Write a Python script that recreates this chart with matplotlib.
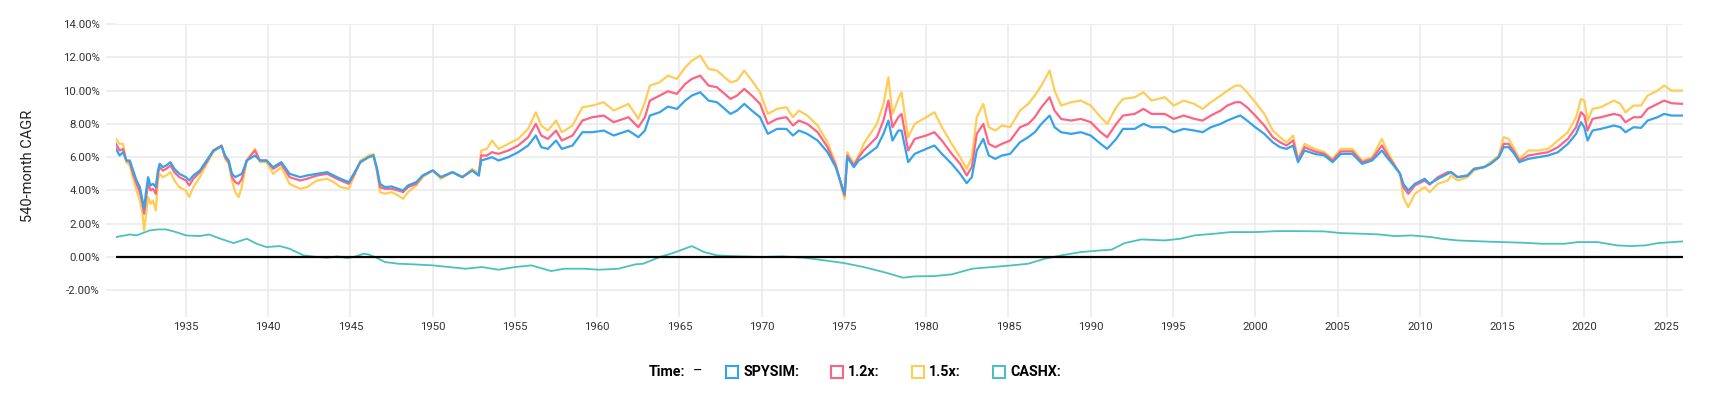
import numpy as np
import matplotlib
matplotlib.use('Agg')
import matplotlib.pyplot as plt
from matplotlib.patches import Rectangle

plt.rcParams['font.family'] = ['Roboto', 'DejaVu Sans']

# ---- data ----
years = [1930.75, 1930.97, 1931.18, 1931.38, 1931.59, 1931.79, 1932.0, 1932.2, 1932.36, 1932.46,
         1932.56, 1932.7, 1932.85, 1933.0, 1933.17, 1933.3, 1933.4, 1933.6, 1933.8, 1934.06,
         1934.3, 1934.6, 1935.0, 1935.2, 1935.45, 1935.85, 1936.26, 1936.67, 1937.17, 1937.38,
         1937.6, 1937.8, 1938.0, 1938.2, 1938.4, 1938.7, 1939.2, 1939.5, 1939.9, 1940.3,
         1940.8, 1941.3, 1941.95, 1942.36, 1942.97, 1943.58, 1943.98, 1944.4, 1944.9, 1945.2,
         1945.6, 1946.1, 1946.4, 1946.6, 1946.8, 1947.1, 1947.5, 1947.9, 1948.2, 1948.5,
         1949.0, 1949.4, 1950.0, 1950.5, 1951.2, 1951.8, 1952.4, 1952.8, 1952.95, 1953.3,
         1953.6, 1954.0, 1954.6, 1955.2, 1955.8, 1956.27, 1956.6, 1957.0, 1957.5, 1957.85,
         1958.5, 1959.1, 1959.7, 1960.4, 1961.0, 1961.9, 1962.5, 1962.9, 1963.2, 1963.8,
         1964.3, 1964.84, 1965.35, 1965.75, 1966.26, 1966.77, 1967.28, 1968.1, 1968.5, 1968.94,
         1969.4, 1969.9, 1970.37, 1970.93, 1971.5, 1971.9, 1972.26, 1972.77, 1973.4, 1974.0,
         1974.5, 1974.9, 1975.04, 1975.2, 1975.6, 1975.9, 1976.2, 1976.6, 1977.0, 1977.4,
         1977.7, 1977.95, 1978.3, 1978.5, 1978.9, 1979.3, 1980.0, 1980.5, 1980.95, 1981.55,
         1982.06, 1982.46, 1982.77, 1983.07, 1983.47, 1983.8, 1984.2, 1984.6, 1985.1, 1985.7,
         1986.2, 1986.6, 1987.0, 1987.5, 1987.8, 1988.2, 1988.8, 1989.4, 1990.0, 1990.6,
         1991.0, 1991.55, 1991.96, 1992.67, 1993.2, 1993.7, 1994.5, 1995.04, 1995.65, 1996.3,
         1996.8, 1997.3, 1997.9, 1998.3, 1998.8, 1999.1, 1999.5, 2000.0, 2000.55, 2001.06,
         2001.5, 2001.9, 2002.3, 2002.6, 2003.0, 2003.6, 2004.2, 2004.7, 2005.2, 2005.9,
         2006.5, 2007.1, 2007.7, 2008.0, 2008.5, 2008.8, 2009.0, 2009.3, 2009.7, 2010.3,
         2010.6, 2011.1, 2011.7, 2011.9, 2012.3, 2012.9, 2013.3, 2013.9, 2014.3, 2014.8,
         2015.1, 2015.4, 2015.75, 2016.05, 2016.6, 2017.2, 2017.8, 2018.4, 2019.0, 2019.5,
         2019.8, 2020.0, 2020.2, 2020.5, 2021.0, 2021.8, 2022.2, 2022.5, 2023.0, 2023.45,
         2023.85, 2024.45, 2024.85, 2025.3, 2026.0]

spysim = [6.5, 6.1, 6.3, 5.8, 5.8, 5.2, 4.6, 4.2, 3.4, 2.9,
          3.8, 4.8, 4.3, 4.4, 4.2, 5.2, 5.6, 5.4, 5.5, 5.7,
          5.3, 5.0, 4.8, 4.6, 4.9, 5.2, 5.8, 6.4, 6.65, 6.1,
          5.8, 5.0, 4.8, 4.9, 5.0, 5.8, 6.1, 5.8, 5.8, 5.4,
          5.7, 5.0, 4.8, 4.9, 5.0, 5.1, 4.9, 4.7, 4.5, 5.0,
          5.7, 6.0, 6.1, 5.4, 4.4, 4.2, 4.24, 4.1, 4.0, 4.3,
          4.5, 4.9, 5.2, 4.8, 5.1, 4.8, 5.2, 4.9, 5.8, 5.9,
          6.0, 5.8, 6.0, 6.3, 6.7, 7.3, 6.6, 6.5, 7.0, 6.5,
          6.7, 7.5, 7.5, 7.6, 7.3, 7.6, 7.2, 7.6, 8.5, 8.7,
          9.04, 8.9, 9.4, 9.7, 9.9, 9.4, 9.3, 8.6, 8.8, 9.2,
          8.8, 8.4, 7.4, 7.7, 7.7, 7.3, 7.6, 7.4, 7.0, 6.3,
          5.4, 4.2, 3.8, 6.0, 5.4, 5.8, 6.0, 6.3, 6.6, 7.4,
          8.2, 7.0, 7.6, 7.6, 5.7, 6.2, 6.5, 6.7, 6.2, 5.6,
          5.0, 4.44, 4.8, 6.4, 7.1, 6.1, 5.9, 6.1, 6.2, 6.9,
          7.2, 7.5, 8.0, 8.5, 7.8, 7.5, 7.4, 7.5, 7.3, 6.8,
          6.5, 7.1, 7.7, 7.7, 8.0, 7.8, 7.8, 7.5, 7.7, 7.6,
          7.5, 7.8, 8.0, 8.2, 8.4, 8.5, 8.2, 7.8, 7.4, 6.9,
          6.6, 6.5, 6.7, 5.7, 6.4, 6.2, 6.1, 5.7, 6.2, 6.2,
          5.6, 5.8, 6.4, 6.0, 5.4, 5.0, 4.4, 4.0, 4.4, 4.7,
          4.4, 4.7, 5.0, 5.1, 4.8, 4.9, 5.3, 5.4, 5.6, 6.0,
          6.6, 6.6, 6.2, 5.7, 5.9, 6.0, 6.1, 6.3, 6.8, 7.4,
          8.1, 7.8, 7.0, 7.6, 7.7, 7.9, 7.8, 7.5, 7.8, 7.76,
          8.2, 8.4, 8.6, 8.5, 8.5]

lev12 = [6.8, 6.4, 6.5, 5.8, 5.7, 5.0, 4.4, 3.9, 3.2, 2.6,
         3.4, 4.4, 4.0, 4.1, 3.8, 5.0, 5.4, 5.2, 5.3, 5.5,
         5.1, 4.8, 4.6, 4.3, 4.7, 5.1, 5.7, 6.4, 6.7, 6.0,
         5.7, 4.8, 4.5, 4.4, 4.7, 5.8, 6.4, 5.8, 5.8, 5.3,
         5.6, 4.8, 4.6, 4.7, 4.9, 5.0, 4.8, 4.6, 4.4, 4.9,
         5.7, 6.0, 6.1, 5.3, 4.2, 4.1, 4.1, 4.0, 3.9, 4.2,
         4.4, 4.9, 5.2, 4.8, 5.1, 4.8, 5.2, 4.9, 6.1, 6.1,
         6.3, 6.2, 6.4, 6.7, 7.2, 8.0, 7.3, 7.1, 7.6, 7.0,
         7.3, 8.2, 8.4, 8.5, 8.1, 8.4, 7.8, 8.4, 9.4, 9.7,
         9.96, 9.8, 10.4, 10.7, 10.9, 10.3, 10.2, 9.5, 9.7, 10.1,
         9.7, 9.2, 8.0, 8.3, 8.4, 7.9, 8.2, 8.0, 7.5, 6.6,
         5.5, 4.1, 3.7, 6.1, 5.5, 6.0, 6.4, 6.8, 7.2, 8.2,
         9.4, 7.8, 8.4, 8.6, 6.4, 7.1, 7.3, 7.5, 7.0, 6.2,
         5.6, 4.9, 5.4, 7.4, 8.0, 6.8, 6.6, 6.8, 7.0, 7.8,
         8.0, 8.4, 9.0, 9.6, 8.8, 8.3, 8.2, 8.3, 8.1, 7.5,
         7.2, 8.0, 8.5, 8.6, 8.9, 8.6, 8.6, 8.3, 8.5, 8.3,
         8.2, 8.5, 8.8, 9.1, 9.3, 9.3, 9.0, 8.5, 7.9, 7.2,
         6.9, 6.7, 7.0, 5.8, 6.6, 6.35, 6.2, 5.8, 6.35, 6.35,
         5.7, 5.9, 6.7, 6.2, 5.45, 5.0, 4.2, 3.8, 4.3, 4.6,
         4.35, 4.8, 5.1, 5.1, 4.8, 4.9, 5.3, 5.4, 5.6, 6.0,
         6.8, 6.8, 6.3, 5.8, 6.1, 6.2, 6.3, 6.6, 7.1, 7.8,
         8.7, 8.5, 7.6, 8.3, 8.4, 8.6, 8.5, 8.1, 8.4, 8.4,
         8.9, 9.2, 9.4, 9.24, 9.2]

lev15 = [7.1, 6.8, 6.8, 5.7, 5.5, 4.7, 4.0, 3.4, 2.6, 1.6,
         2.4, 3.6, 3.2, 3.4, 2.8, 4.6, 5.0, 4.8, 4.9, 5.1,
         4.6, 4.2, 4.0, 3.6, 4.2, 4.8, 5.6, 6.3, 6.7, 5.9,
         5.6, 4.6, 3.9, 3.6, 4.2, 5.8, 6.5, 5.7, 5.7, 5.0,
         5.4, 4.4, 4.1, 4.2, 4.6, 4.7, 4.5, 4.2, 4.1, 4.8,
         5.8, 6.1, 6.2, 5.2, 3.9, 3.8, 3.9, 3.7, 3.5, 3.9,
         4.3, 4.8, 5.2, 4.7, 5.1, 4.8, 5.3, 5.0, 6.4, 6.5,
         7.0, 6.5, 6.8, 7.1, 7.7, 8.7, 7.9, 7.6, 8.2, 7.5,
         7.9, 9.0, 9.1, 9.3, 8.8, 9.2, 8.3, 9.3, 10.3, 10.5,
         10.9, 10.7, 11.4, 11.8, 12.1, 11.3, 11.2, 10.5, 10.6, 11.2,
         10.6, 9.9, 8.6, 8.9, 9.0, 8.4, 8.8, 8.5, 7.9, 6.9,
         5.6, 4.0, 3.5, 6.3, 5.6, 6.1, 6.8, 7.4, 8.0, 9.2,
         10.8, 8.6, 9.5, 9.9, 7.2, 8.0, 8.4, 8.7, 7.8, 6.8,
         6.0, 5.3, 6.0, 8.4, 9.2, 7.8, 7.6, 7.9, 7.8, 8.8,
         9.2, 9.7, 10.3, 11.2, 10.0, 9.1, 9.3, 9.4, 9.1, 8.4,
         8.0, 9.0, 9.5, 9.6, 9.9, 9.4, 9.6, 9.1, 9.4, 9.2,
         8.9, 9.3, 9.7, 10.0, 10.3, 10.3, 9.9, 9.3, 8.6, 7.6,
         7.2, 6.9, 7.3, 5.9, 6.8, 6.5, 6.3, 5.9, 6.5, 6.5,
         5.8, 6.0, 7.1, 6.4, 5.5, 5.0, 3.6, 3.0, 3.8, 4.2,
         3.9, 4.4, 4.6, 4.9, 4.6, 4.8, 5.2, 5.4, 5.7, 6.1,
         7.2, 7.1, 6.5, 5.9, 6.4, 6.4, 6.5, 7.0, 7.5, 8.4,
         9.5, 9.4, 8.2, 8.9, 9.0, 9.4, 9.2, 8.7, 9.1, 9.1,
         9.7, 10.0, 10.3, 10.0, 10.0]

cash_years = [1930.75, 1931.6, 1932.0, 1932.8, 1933.3, 1933.8, 1934.4, 1935.0, 1935.85, 1936.4,
              1937.1, 1937.9, 1938.7, 1939.3, 1939.9, 1940.7, 1941.3, 1942.15, 1943.0, 1943.6,
              1944.2, 1944.8, 1945.2, 1945.8, 1946.1, 1946.5, 1947.1, 1947.9, 1948.9, 1950.0,
              1951.0, 1952.0, 1953.0, 1954.0, 1955.0, 1956.0, 1957.2, 1958.0, 1959.2, 1960.1,
              1961.3, 1962.3, 1962.8, 1963.8, 1964.6, 1965.75, 1966.5, 1967.3, 1968.1, 1970.0,
              1971.2, 1972.6, 1973.8, 1975.0, 1976.2, 1977.4, 1978.6, 1979.3, 1980.5, 1981.55,
              1982.8, 1984.0, 1985.2, 1986.2, 1987.2, 1988.2, 1989.4, 1990.6, 1991.25, 1992.06,
              1993.07, 1994.5, 1995.45, 1996.3, 1997.5, 1998.5, 2000.0, 2001.4, 2002.4, 2004.2,
              2005.2, 2006.5, 2007.5, 2008.5, 2009.5, 2010.7, 2011.3, 2012.3, 2014.3, 2016.3,
              2017.4, 2018.8, 2019.6, 2020.8, 2022.0, 2022.85, 2023.7, 2024.5, 2026.0]
cashx = [1.2, 1.36, 1.3, 1.6, 1.66, 1.66, 1.5, 1.3, 1.26, 1.36,
         1.1, 0.84, 1.1, 0.8, 0.6, 0.66, 0.5, 0.1, 0.0, -0.04,
         0.04, -0.06, 0.0, 0.2, 0.16, 0.0, -0.3, -0.4, -0.44, -0.5,
         -0.6, -0.7, -0.6, -0.76, -0.6, -0.5, -0.84, -0.7, -0.7, -0.76,
         -0.7, -0.44, -0.4, 0.0, 0.24, 0.66, 0.3, 0.1, 0.06, 0.0,
         0.04, -0.04, -0.2, -0.36, -0.6, -0.9, -1.24, -1.16, -1.14, -1.04,
         -0.7, -0.6, -0.5, -0.4, -0.1, 0.1, 0.3, 0.4, 0.44, 0.84,
         1.06, 1.0, 1.1, 1.3, 1.4, 1.5, 1.5, 1.56, 1.56, 1.54,
         1.44, 1.4, 1.36, 1.26, 1.3, 1.2, 1.1, 1.0, 0.92, 0.86,
         0.8, 0.8, 0.9, 0.9, 0.7, 0.66, 0.7, 0.84, 0.94]

labels = ['SPYSIM:', '1.2x:', '1.5x:', 'CASHX:']
colors = ['#36A2EB', '#FF6384', '#FFCD56', '#4BC0C0']
yticks = [-2, 0, 2, 4, 6, 8, 10, 12, 14]
xticks = [1935, 1940, 1945, 1950, 1955, 1960, 1965, 1970, 1975, 1980,
          1985, 1990, 1995, 2000, 2005, 2010, 2015, 2020, 2025]

# ---- figure ----
W, H = 1709, 393
fig = plt.figure(figsize=(W / 100, H / 100), dpi=100)
fig.patch.set_facecolor('white')

def fx(px):
    return px / W

def fy(py):
    return 1 - py / H

ax = fig.add_axes([fx(116), fy(307), fx(1683) - fx(116), fy(24) - fy(307)])

ax.plot(cash_years, cashx, color=colors[3], lw=1.3, zorder=3)
ax.axhline(0, color='black', lw=1.6, zorder=4)
ax.plot(years, lev15, color=colors[2], lw=1.6, zorder=5)
ax.plot(years, lev12, color=colors[1], lw=1.6, zorder=6)
ax.plot(years, spysim, color=colors[0], lw=1.6, zorder=7)

ax.set_xlim(years[0], years[-1])
ax.set_ylim(-3.0, 14.0)
ax.set_yticks(yticks)
ax.set_yticklabels(['%.2f%%' % v for v in yticks])
ax.set_xticks(xticks)
ax.set_xticklabels([str(v) for v in xticks])

for s in ax.spines.values():
    s.set_visible(False)
ax.grid(True, color='#ebebeb', lw=1.2, zorder=0)
ax.set_axisbelow(True)
ax.tick_params(axis='both', length=7.2, width=1.2, color='#ebebeb',
               labelsize=8.2, labelcolor='#333333')
ax.tick_params(axis='y', pad=4.3)
ax.tick_params(axis='x', pad=3.6)

fig.text(fx(27.5), fy(165.5), '540-month CAGR', rotation=90, ha='center', va='center',
         fontsize=10.5, color='#222222')

# ---- legend (Chart.js style, drawn by hand) ----
ly = 372
fig.text(fx(649), fy(ly), 'Time:', ha='left', va='center', fontsize=10.3,
         fontweight='bold', color='black')
fig.text(fx(693), fy(ly), '–', ha='left', va='center', fontsize=10.3, color='black')
box_x = [726, 831, 912, 993]
for bx, lab, c in zip(box_x, labels, colors):
    fig.patches.append(Rectangle((fx(bx), fy(ly + 6)), 12 / W, 12 / H,
                                 transform=fig.transFigure, facecolor='white',
                                 edgecolor=c, lw=1.5))
    fig.text(fx(bx + 17), fy(ly), lab, ha='left', va='center', fontsize=10.3,
             fontweight='bold', color='black')

plt.savefig('out.png', dpi=100)
